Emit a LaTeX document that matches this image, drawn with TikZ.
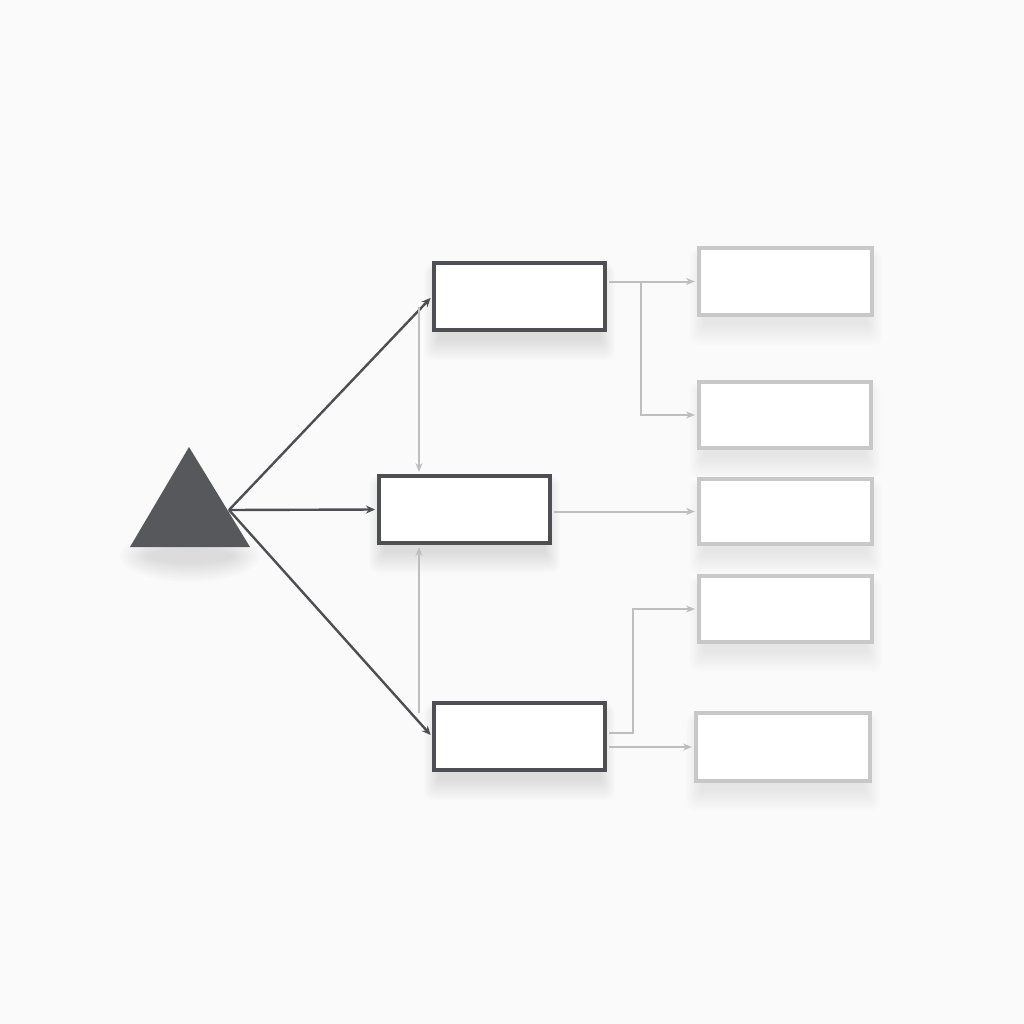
\documentclass[tikz,border=0pt]{standalone}
\usetikzlibrary{arrows.meta,calc}
\pgfdeclarelayer{bglayer}
\pgfdeclarelayer{shadowlayer}
\pgfsetlayers{bglayer,shadowlayer,main}
\definecolor{bg}{HTML}{FAFAFA}
\definecolor{darkc}{HTML}{4E4F52}
\definecolor{trifill}{HTML}{56585C}
\definecolor{lightc}{HTML}{C8C8C8}
\definecolor{lightarr}{HTML}{BEBEBE}
\tikzset{
  darkbox/.style={draw=darkc, line width=4pt, fill=white, minimum width=171pt, minimum height=67pt, inner sep=0pt},
  lightbox/.style={draw=lightc, line width=4pt, fill=white, inner sep=0pt},
  darkarrow/.style={draw=darkc, line width=2.4pt, -{Stealth[length=9pt,width=8pt]}},
  lightarrow/.style={draw=lightarr, line width=2pt, -{Stealth[length=9pt,width=7pt]}},
}
\newcommand{\softshade}[2]{%
  \begin{pgfonlayer}{shadowlayer}
  \foreach \i in {1,...,10}{
    \fill[black, opacity=#2, rounded corners=\i pt]
      ($(#1.north west)+(8-\i*1.6, 14-\i*1.2)$) rectangle ($(#1.south east)+(-8+\i*1.6, 6+\i*2.2)$);
  }
  \end{pgfonlayer}}
\begin{document}
\begin{tikzpicture}[x=1pt,y=-1pt]
\begin{pgfonlayer}{bglayer}
\fill[bg] (0,0) rectangle (1024,1024);
\end{pgfonlayer}
\useasboundingbox (0,0) rectangle (1024,1024);
% triangle
\fill[trifill] (189,447) -- (250,547) -- (130,547) -- cycle;
\coordinate (src) at (229,510);
\begin{pgfonlayer}{shadowlayer}
\foreach \i in {1,...,10}{
  \fill[black, opacity=0.01] (190,556) ellipse ({40+\i*3} and {6+\i*2});
}
\end{pgfonlayer}
% dark boxes
\node[darkbox] (t) at (519.5,296.5) {};
\node[darkbox] (m) at (464.5,509.5) {};
\node[darkbox] (b) at (519.5,736.5) {};
% light boxes
\node[lightbox, minimum width=173pt, minimum height=67pt] (l1) at (785.5,281.5) {};
\node[lightbox, minimum width=172pt, minimum height=66pt] (l2) at (785,415) {};
\node[lightbox, minimum width=173pt, minimum height=65pt] (l3) at (785.5,511.5) {};
\node[lightbox, minimum width=173pt, minimum height=66pt] (l4) at (785.5,609) {};
\node[lightbox, minimum width=174pt, minimum height=68pt] (l5) at (783,747) {};
\softshade{t}{0.011}
\softshade{m}{0.011}
\softshade{b}{0.011}
\softshade{l1}{0.007}
\softshade{l2}{0.007}
\softshade{l3}{0.007}
\softshade{l4}{0.007}
\softshade{l5}{0.007}
% dark arrows
\draw[darkarrow, shorten >=2pt] (src) -- (t.west);
\draw[darkarrow, shorten >=2pt] (src) -- (m.west);
\draw[darkarrow, shorten >=2pt] (src) -- (b.west);
% vertical light arrows
\coordinate (v1) at (419,307);
\coordinate (v2) at (419,713);
\draw[lightarrow, shorten >=2pt] (v1) -- (v1 |- m.north);
\draw[lightarrow, shorten >=2pt] (v2) -- (v2 |- m.south);
% right connectors
\coordinate (br1) at (641,281.5);
\draw[lightarrow, shorten <=2pt, shorten >=2pt] (t.east |- l1.west) -- (l1.west);
\draw[lightarrow, shorten >=2pt] (br1) |- (l2.west);
\draw[lightarrow, shorten <=2pt, shorten >=2pt] (m.east |- l3.west) -- (l3.west);
\coordinate (c1) at (633,733);
\draw[lightarrow, shorten <=2pt, shorten >=2pt] (b.east |- c1) -- (c1) |- (l4.west);
\draw[lightarrow, shorten <=2pt, shorten >=2pt] (b.east |- l5.west) -- (l5.west);
\end{tikzpicture}
\end{document}
